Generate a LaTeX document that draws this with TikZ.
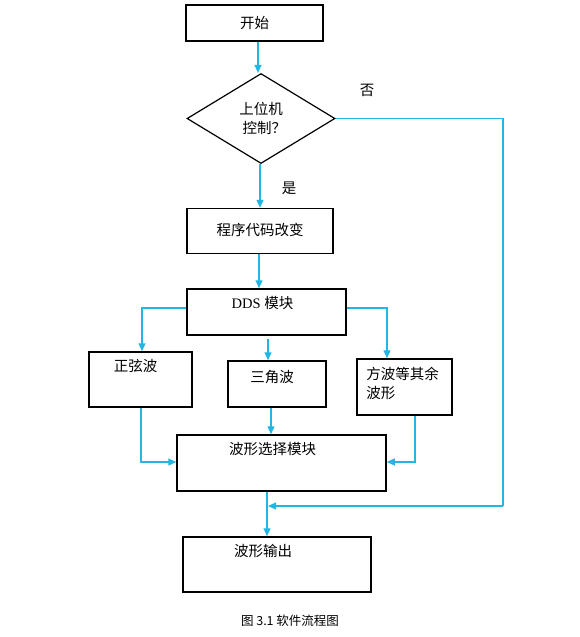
\documentclass[tikz,border=0pt]{standalone}
\usepackage{fontspec}
\setmainfont{Liberation Serif}
\newfontfamily\cjk{Noto Sans CJK SC}
\usetikzlibrary{shapes.geometric,arrows.meta}
\definecolor{flowcyan}{RGB}{35,182,226}
\tikzset{
	box/.style={draw, line width=1.5pt, inner sep=0pt, font=\cjk\fontsize{14.5}{16}\selectfont},
	decbox/.style={draw, diamond, line width=1.2pt, inner sep=0pt, align=center, font=\cjk\fontsize{14.5}{19}\selectfont},
	toptext/.style={anchor=north, inner sep=0pt, font=\cjk\fontsize{14.5}{19}\selectfont},
	flow/.style={draw=flowcyan, line width=1.2pt, -{Triangle[length=8pt,width=7pt]}},
	flowline/.style={draw=flowcyan, line width=1.2pt},
	txt/.style={inner sep=0pt, font=\cjk\fontsize{14.5}{16}\selectfont}
}
\begin{document}
\begin{tikzpicture}[x=1pt,y=-1pt]

	\useasboundingbox (0,0) rectangle (579,637);

	% boxes
	\node[box, minimum width=137pt, minimum height=36pt] (start) at (254.5,23) {开始};
	\node[decbox, minimum width=148pt, minimum height=90pt] (ctrl) at (261,118.5) {上位机\\\ \ 控制？};
	\node[box, minimum width=146pt, minimum height=45pt] (code) at (260,231) {\raisebox{4pt}{程序代码改变}};
	\node[box, minimum width=159pt, minimum height=46pt] (dds) at (266.5,312) {};
	\node[toptext] at ([xshift=-4pt,yshift=-8pt]dds.north) {\rmfamily DDS {\cjk 模块}};

	\node[box, minimum width=103pt, minimum height=55pt] (sine) at (140.5,379.5) {};
	\node[toptext] at ([xshift=-5pt,yshift=-8pt]sine.north) {正弦波};
	\node[box, minimum width=98pt, minimum height=46pt] (tri) at (277,384) {};
	\node[toptext] at ([xshift=-5pt,yshift=-10pt]tri.north) {三角波};
	\node[box, minimum width=95pt, minimum height=56pt] (rest) at (404.5,387) {};
	\node[toptext, anchor=north west, align=left] at ([xshift=10pt,yshift=-9pt]rest.north west) {方波等其余\\波形};

	\node[box, minimum width=209pt, minimum height=56pt] (sel) at (281.5,463) {};
	\node[toptext] at ([xshift=-9pt,yshift=-8pt]sel.north) {波形选择模块};
	\node[box, minimum width=188pt, minimum height=55pt] (out) at (277,564.5) {};
	\node[toptext] at ([xshift=-14pt,yshift=-8pt]out.north) {波形输出};

	% branch labels
	\node[txt] (no) at (367,90) {否};
	\node[txt] (yes) at (289,188) {是};

	% caption
	\node[inner sep=0pt, font=\cjk\fontsize{12.5}{13}\selectfont] (cap) at (290,621) {图 3.1 软件流程图};

	% flow
	\draw[flow] (start.south -| 258,0) -- (ctrl.north -| 258,0);
	\draw[flow] (ctrl.south -| 260,0) -- (code.north -| 260,0);
	\draw[flow] (code.south -| 259,0) -- (dds.north -| 259,0);
	\draw[flow] (dds.west |- 0,308) -| (sine.north -| 142,0);
	\draw[flow] (dds.south -| 268,0) ++(0,3) -- (tri.north -| 268,0);
	\draw[flow] (dds.east |- 0,308) -| (rest.north -| 387,0);
	\draw[flow] (sine.south -| 141,0) |- (sel.west |- 0,462);
	\draw[flow] (tri.south -| 271,0) -- (sel.north -| 271,0);
	\draw[flow] (rest.south -| 415,0) |- (sel.east |- 0,462);
	\coordinate (nocorner) at (ctrl.east -| 503,0);
	\coordinate (joincorner) at (503,506);
	\draw[flowline] (ctrl.east) -- (nocorner) -- (joincorner);
	\draw[flow] (joincorner) -- (268,506);
	\draw[flow] (sel.south -| 267,0) -- (out.north -| 267,0);

\end{tikzpicture}
\end{document}
